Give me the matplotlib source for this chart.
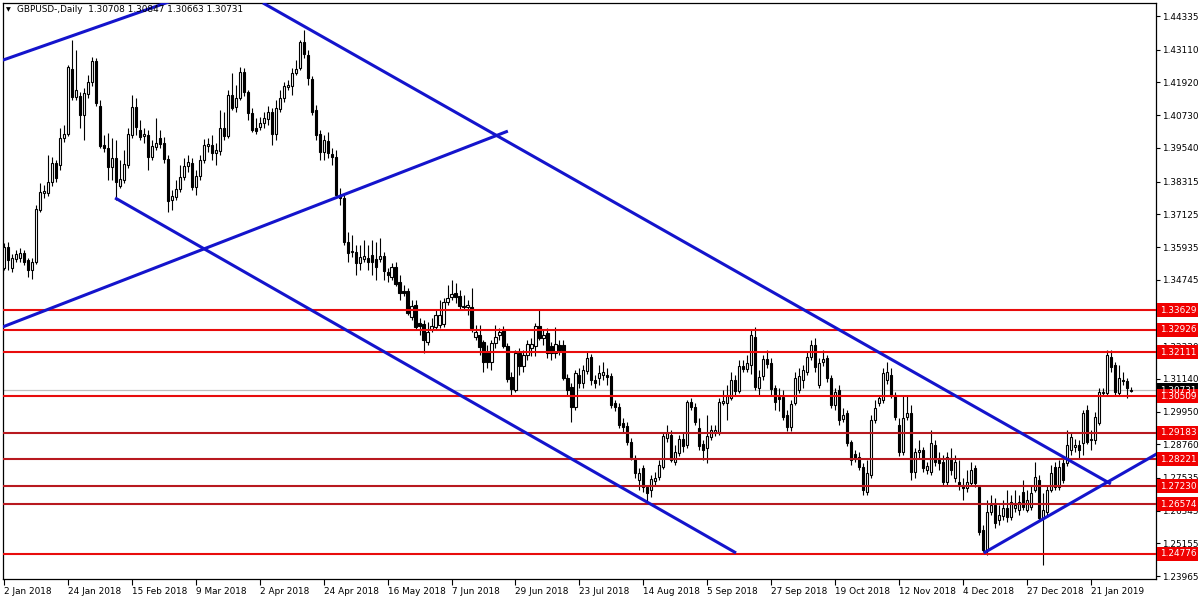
import matplotlib
matplotlib.use("Agg")
import matplotlib.pyplot as plt
from matplotlib.patches import Rectangle
from matplotlib.transforms import blended_transform_factory
import numpy as np

# GBPUSD daily candles (one bar per trading day from 2 Jan 2018)
opens = [
    1.3518, 1.3594, 1.3518, 1.3550, 1.3554, 1.3572, 1.3547, 1.3510, 1.3540, 1.3728,
    1.3790, 1.3790, 1.3830, 1.3899, 1.3892, 1.3990, 1.4005, 1.4241, 1.4139, 1.4143,
    1.4074, 1.4150, 1.4194, 1.4270, 1.4107, 1.3965, 1.3954, 1.3885, 1.3917, 1.3816,
    1.3837, 1.3892, 1.4001, 1.4103, 1.4019, 1.3997, 1.4001, 1.3921, 1.3957, 1.3990,
    1.3972, 1.3914, 1.3765, 1.3776, 1.3805, 1.3848, 1.3888, 1.3899, 1.3812, 1.3852,
    1.3910, 1.3961, 1.3965, 1.3936, 1.3943, 1.4027, 1.3997, 1.4147, 1.4103, 1.4136,
    1.4230, 1.4157, 1.4081, 1.4027, 1.4030, 1.4045, 1.4059, 1.4085, 1.4005, 1.4096,
    1.4136, 1.4176, 1.4179, 1.4227, 1.4245, 1.4339, 1.4292, 1.4205, 1.4092, 1.4005,
    1.3939, 1.3979, 1.3932, 1.3921, 1.3783, 1.3772, 1.3612, 1.3576, 1.3576, 1.3536,
    1.3550, 1.3554, 1.3565, 1.3550, 1.3550, 1.3561, 1.3503, 1.3485, 1.3521, 1.3467,
    1.3434, 1.3434, 1.3339, 1.3383, 1.3317, 1.3314, 1.3248, 1.3296, 1.3303, 1.3310,
    1.3314, 1.3394, 1.3412, 1.3427, 1.3416, 1.3379, 1.3376, 1.3376, 1.3266, 1.3274,
    1.3248, 1.3212, 1.3175, 1.3245, 1.3274, 1.3292, 1.3234, 1.3121, 1.3074, 1.3208,
    1.3161, 1.3201, 1.3226, 1.3234, 1.3307, 1.3263, 1.3281, 1.3234, 1.3208, 1.3237,
    1.3237, 1.3117, 1.3085, 1.3012, 1.3128, 1.3099, 1.3143, 1.3194, 1.3110, 1.3117,
    1.3128, 1.3128, 1.3125, 1.3027, 1.3012, 1.2954, 1.2943, 1.2885, 1.2827, 1.2747,
    1.2790, 1.2721, 1.2710, 1.2743, 1.2757, 1.2794, 1.2899, 1.2910, 1.2812, 1.2845,
    1.2896, 1.2874, 1.3030, 1.3012, 1.2935, 1.2877, 1.2863, 1.2903, 1.2917, 1.2921,
    1.3027, 1.3027, 1.3045, 1.3110, 1.3070, 1.3161, 1.3150, 1.3165, 1.3266, 1.3081,
    1.3125, 1.3186, 1.3172, 1.3081, 1.3048, 1.3048, 1.2983, 1.2939, 1.3027, 1.3074,
    1.3110, 1.3139, 1.3194, 1.3237, 1.3092, 1.3175, 1.3190, 1.3117, 1.3019, 1.3074,
    1.2968, 1.2990, 1.2885, 1.2841, 1.2830, 1.2794, 1.2703, 1.2765, 1.2965, 1.3027,
    1.3038, 1.3110, 1.3128, 1.3056, 1.2947, 1.2848, 1.2976, 1.2990, 1.2776, 1.2848,
    1.2856, 1.2783, 1.2776, 1.2874, 1.2827, 1.2812, 1.2739, 1.2827, 1.2754, 1.2739,
    1.2728, 1.2717, 1.2736, 1.2790, 1.2721, 1.2565, 1.2492, 1.2630, 1.2656, 1.2601,
    1.2616, 1.2645, 1.2612, 1.2645, 1.2638, 1.2703, 1.2638, 1.2649, 1.2710, 1.2747,
    1.2609, 1.2630, 1.2710, 1.2794, 1.2721, 1.2808, 1.2808, 1.2856, 1.2866, 1.2874,
    1.2881, 1.3001, 1.2892, 1.2892, 1.2954, 1.3063, 1.3063, 1.3194, 1.3165, 1.3063,
    1.3110, 1.3107, 1.30708,
]
highs = [
    1.3608, 1.3612, 1.3568, 1.3583, 1.3590, 1.3583, 1.3554, 1.3554, 1.3747, 1.3826,
    1.3819, 1.3928, 1.3921, 1.3910, 1.4027, 1.4037, 1.4256, 1.4346, 1.4310, 1.4157,
    1.4172, 1.4219, 1.4285, 1.4281, 1.4128, 1.4001, 1.4008, 1.3990, 1.3983, 1.3910,
    1.3946, 1.4027, 1.4147, 1.4136, 1.4056, 1.4027, 1.4019, 1.3983, 1.4063, 1.4019,
    1.3994, 1.3928, 1.3801, 1.3837, 1.3892, 1.3917, 1.3928, 1.3917, 1.3874, 1.3928,
    1.3986, 1.3990, 1.4001, 1.3972, 1.4092, 1.4085, 1.4165, 1.4227, 1.4183, 1.4248,
    1.4245, 1.4165, 1.4099, 1.4063, 1.4066, 1.4085, 1.4107, 1.4099, 1.4128, 1.4165,
    1.4194, 1.4201, 1.4245, 1.4274, 1.4346, 1.4383, 1.4310, 1.4216, 1.4110, 1.4019,
    1.4001, 1.4012, 1.3954, 1.3946, 1.3808, 1.3783, 1.3648, 1.3637, 1.3601, 1.3601,
    1.3619, 1.3601, 1.3619, 1.3612, 1.3626, 1.3576, 1.3518, 1.3536, 1.3540, 1.3492,
    1.3456, 1.3445, 1.3401, 1.3401, 1.3336, 1.3328, 1.3321, 1.3336, 1.3365, 1.3401,
    1.3408, 1.3456, 1.3474, 1.3463, 1.3437, 1.3419, 1.3401, 1.3445, 1.3310, 1.3310,
    1.3256, 1.3237, 1.3256, 1.3310, 1.3299, 1.3307, 1.3245, 1.3139, 1.3219, 1.3226,
    1.3219, 1.3256, 1.3263, 1.3317, 1.3365, 1.3292, 1.3299, 1.3248, 1.3303, 1.3256,
    1.3256, 1.3132, 1.3099, 1.3147, 1.3154, 1.3165, 1.3212, 1.3205, 1.3128, 1.3165,
    1.3175, 1.3154, 1.3136, 1.3038, 1.3027, 1.2972, 1.2957, 1.2899, 1.2837, 1.2790,
    1.2801, 1.2728, 1.2765, 1.2776, 1.2819, 1.2921, 1.2946, 1.2928, 1.2874, 1.2910,
    1.2921, 1.3038, 1.3045, 1.3027, 1.2972, 1.2892, 1.2983, 1.2946, 1.2946, 1.3045,
    1.3074, 1.3092, 1.3139, 1.3128, 1.3183, 1.3183, 1.3201, 1.3292, 1.3303, 1.3147,
    1.3201, 1.3219, 1.3190, 1.3092, 1.3081, 1.3074, 1.3001, 1.3038, 1.3139, 1.3154,
    1.3165, 1.3212, 1.3256, 1.3263, 1.3190, 1.3219, 1.3201, 1.3128, 1.3081, 1.3092,
    1.3008, 1.3001, 1.2892, 1.2856, 1.2848, 1.2808, 1.2819, 1.2983, 1.3038, 1.3056,
    1.3154, 1.3175, 1.3154, 1.3067, 1.2972, 1.3056, 1.3056, 1.3019, 1.2863, 1.2892,
    1.2866, 1.2812, 1.2928, 1.2892, 1.2848, 1.2837, 1.2848, 1.2863, 1.2837, 1.2819,
    1.2754, 1.2783, 1.2812, 1.2801, 1.2725, 1.2583, 1.2674, 1.2692, 1.2681, 1.2656,
    1.2674, 1.2710, 1.2692, 1.2710, 1.2692, 1.2747, 1.2710, 1.2728, 1.2812, 1.2765,
    1.2699, 1.2728, 1.2801, 1.2812, 1.2819, 1.2827, 1.2928, 1.2921, 1.2896, 1.2892,
    1.3001, 1.3019, 1.2928, 1.2994, 1.3081, 1.3081, 1.3219, 1.3219, 1.3175, 1.3165,
    1.3139, 1.3117, 1.30847,
]
lows = [
    1.3510, 1.3510, 1.3503, 1.3540, 1.3540, 1.3529, 1.3485, 1.3477, 1.3532, 1.3721,
    1.3772, 1.3779, 1.3816, 1.3830, 1.3874, 1.3976, 1.3997, 1.4128, 1.4128, 1.4027,
    1.3983, 1.4136, 1.4179, 1.4107, 1.3954, 1.3939, 1.3837, 1.3837, 1.3765, 1.3808,
    1.3827, 1.3881, 1.3990, 1.4001, 1.3983, 1.3972, 1.3874, 1.3910, 1.3946, 1.3954,
    1.3899, 1.3721, 1.3728, 1.3765, 1.3794, 1.3837, 1.3866, 1.3801, 1.3783, 1.3837,
    1.3899, 1.3939, 1.3910, 1.3892, 1.3928, 1.3983, 1.3990, 1.4092, 1.4085, 1.4128,
    1.4143, 1.4056, 1.4012, 1.4005, 1.4019, 1.4027, 1.4037, 1.3965, 1.3983, 1.4085,
    1.4121, 1.4165, 1.4147, 1.4219, 1.4237, 1.4281, 1.4183, 1.4074, 1.3983, 1.3910,
    1.3910, 1.3917, 1.3892, 1.3776, 1.3746, 1.3601, 1.3540, 1.3558, 1.3492, 1.3510,
    1.3540, 1.3510, 1.3492, 1.3474, 1.3540, 1.3474, 1.3467, 1.3474, 1.3452, 1.3401,
    1.3416, 1.3347, 1.3328, 1.3292, 1.3274, 1.3208, 1.3237, 1.3285, 1.3292, 1.3299,
    1.3303, 1.3383, 1.3401, 1.3390, 1.3365, 1.3365, 1.3347, 1.3285, 1.3256, 1.3201,
    1.3139, 1.3154, 1.3147, 1.3226, 1.3256, 1.3226, 1.3103, 1.3052, 1.3067, 1.3128,
    1.3139, 1.3183, 1.3197, 1.3197, 1.3256, 1.3237, 1.3190, 1.3183, 1.3190, 1.3201,
    1.3110, 1.3056, 1.2957, 1.3001, 1.3081, 1.3081, 1.3132, 1.3092, 1.3081, 1.3092,
    1.3110, 1.3092, 1.3008, 1.2996, 1.2936, 1.2921, 1.2874, 1.2819, 1.2754, 1.2710,
    1.2703, 1.2663, 1.2685, 1.2728, 1.2747, 1.2787, 1.2885, 1.2812, 1.2801, 1.2834,
    1.2848, 1.2863, 1.3001, 1.2947, 1.2856, 1.2819, 1.2808, 1.2892, 1.2907, 1.2910,
    1.3019, 1.2965, 1.3038, 1.3056, 1.3063, 1.3139, 1.3139, 1.3132, 1.3074, 1.3056,
    1.3110, 1.3154, 1.3056, 1.3001, 1.2996, 1.2965, 1.2925, 1.2925, 1.3019, 1.3063,
    1.3081, 1.3128, 1.3183, 1.3139, 1.3081, 1.3161, 1.3103, 1.3008, 1.3001, 1.2947,
    1.2957, 1.2870, 1.2801, 1.2812, 1.2783, 1.2692, 1.2692, 1.2754, 1.2954, 1.3016,
    1.3027, 1.3096, 1.3045, 1.2965, 1.2834, 1.2837, 1.2965, 1.2747, 1.2754, 1.2827,
    1.2776, 1.2768, 1.2765, 1.2797, 1.2783, 1.2728, 1.2725, 1.2765, 1.2739, 1.2710,
    1.2674, 1.2703, 1.2725, 1.2721, 1.2547, 1.2485, 1.2474, 1.2620, 1.2572, 1.2583,
    1.2601, 1.2594, 1.2601, 1.2630, 1.2620, 1.2638, 1.2630, 1.2638, 1.2703, 1.2601,
    1.2438, 1.2620, 1.2703, 1.2710, 1.2710, 1.2736, 1.2797, 1.2837, 1.2848, 1.2827,
    1.2837, 1.2877, 1.2856, 1.2877, 1.2947, 1.3052, 1.3056, 1.3139, 1.3056, 1.3052,
    1.3092, 1.3045, 1.30663,
]
closes = [
    1.3594, 1.3547, 1.3554, 1.3568, 1.3572, 1.3540, 1.3510, 1.3540, 1.3732, 1.3794,
    1.3797, 1.3830, 1.3899, 1.3845, 1.3990, 1.4005, 1.4248, 1.4139, 1.4165, 1.4074,
    1.4154, 1.4194, 1.4270, 1.4117, 1.3961, 1.3954, 1.3885, 1.3917, 1.3830, 1.3841,
    1.3896, 1.4005, 1.4103, 1.4030, 1.3994, 1.4005, 1.3921, 1.3961, 1.3972, 1.3968,
    1.3914, 1.3761, 1.3779, 1.3805, 1.3848, 1.3888, 1.3903, 1.3812, 1.3852, 1.3910,
    1.3965, 1.3968, 1.3936, 1.3946, 1.4027, 1.3997, 1.4147, 1.4099, 1.4136, 1.4230,
    1.4157, 1.4081, 1.4019, 1.4016, 1.4045, 1.4063, 1.4085, 1.4005, 1.4099, 1.4136,
    1.4179, 1.4183, 1.4227, 1.4241, 1.4339, 1.4296, 1.4208, 1.4085, 1.4001, 1.3939,
    1.3983, 1.3936, 1.3921, 1.3783, 1.3772, 1.3612, 1.3572, 1.3579, 1.3536, 1.3558,
    1.3561, 1.3540, 1.3540, 1.3521, 1.3561, 1.3507, 1.3492, 1.3521, 1.3459, 1.3427,
    1.3427, 1.3354, 1.3379, 1.3303, 1.3307, 1.3256, 1.3285, 1.3307, 1.3347, 1.3347,
    1.3394, 1.3408, 1.3423, 1.3412, 1.3379, 1.3376, 1.3383, 1.3299, 1.3285, 1.3230,
    1.3175, 1.3175, 1.3245, 1.3266, 1.3285, 1.3234, 1.3114, 1.3077, 1.3208, 1.3161,
    1.3201, 1.3241, 1.3241, 1.3307, 1.3263, 1.3274, 1.3208, 1.3208, 1.3241, 1.3219,
    1.3117, 1.3074, 1.3012, 1.3136, 1.3099, 1.3147, 1.3190, 1.3110, 1.3099, 1.3136,
    1.3139, 1.3121, 1.3019, 1.3012, 1.2947, 1.2939, 1.2885, 1.2830, 1.2772, 1.2772,
    1.2721, 1.2699, 1.2750, 1.2754, 1.2801, 1.2907, 1.2917, 1.2819, 1.2848, 1.2896,
    1.2870, 1.3030, 1.3012, 1.2957, 1.2870, 1.2856, 1.2907, 1.2928, 1.2928, 1.3030,
    1.3034, 1.3052, 1.3110, 1.3070, 1.3161, 1.3150, 1.3172, 1.3274, 1.3085, 1.3121,
    1.3186, 1.3168, 1.3077, 1.3030, 1.3041, 1.2976, 1.2939, 1.3023, 1.3117, 1.3125,
    1.3147, 1.3194, 1.3237, 1.3157, 1.3172, 1.3186, 1.3117, 1.3019, 1.3067, 1.2965,
    1.2983, 1.2881, 1.2819, 1.2823, 1.2794, 1.2710, 1.2772, 1.2965, 1.3008, 1.3045,
    1.3136, 1.3139, 1.3056, 1.2976, 1.2848, 1.2972, 1.2990, 1.2776, 1.2848, 1.2856,
    1.2790, 1.2797, 1.2881, 1.2812, 1.2808, 1.2739, 1.2830, 1.2783, 1.2812, 1.2728,
    1.2717, 1.2739, 1.2783, 1.2736, 1.2558, 1.2492, 1.2630, 1.2656, 1.2590, 1.2620,
    1.2645, 1.2612, 1.2667, 1.2656, 1.2667, 1.2649, 1.2674, 1.2699, 1.2757, 1.2609,
    1.2638, 1.2710, 1.2772, 1.2721, 1.2794, 1.2747, 1.2874, 1.2903, 1.2874, 1.2856,
    1.2990, 1.2885, 1.2896, 1.2976, 1.3067, 1.3067, 1.3201, 1.3157, 1.3067, 1.3117,
    1.3107, 1.3081, 1.30731,
]

date_labels = ["2 Jan 2018", "24 Jan 2018", "15 Feb 2018", "9 Mar 2018", "2 Apr 2018",
               "24 Apr 2018", "16 May 2018", "7 Jun 2018", "29 Jun 2018", "23 Jul 2018",
               "14 Aug 2018", "5 Sep 2018", "27 Sep 2018", "19 Oct 2018", "12 Nov 2018",
               "4 Dec 2018", "27 Dec 2018", "21 Jan 2019"]
bars_per_label = 16

price_ticks = [1.44335, 1.43110, 1.41920, 1.40730, 1.39540, 1.38315, 1.37125, 1.35935,
               1.34745, 1.33555, 1.32330, 1.31140, 1.29950, 1.28760, 1.27535, 1.26345,
               1.25155, 1.23965]

# horizontal support / resistance lines
bright_levels = [1.33629, 1.32926, 1.32111, 1.30509, 1.24776]
dark_levels = [1.29183, 1.28221, 1.27230, 1.26574]
last_price = 1.30731

# trend lines as (bar, price) pairs
trend_lines = [
    ((-0.3, 1.4273), (41.5, 1.4486)),
    ((64.8, 1.4481), (277.0, 1.2732)),
    ((27.8, 1.3772), (183.2, 1.2481)),
    ((-0.3, 1.3303), (126.1, 1.4015)),
    ((245.2, 1.2481), (289.3, 1.2848)),
]

header = "GBPUSD-,Daily  1.30708 1.30847 1.30663 1.30731"

FS = 6.4
plt.rcParams['font.family'] = ['DejaVu Sans']

fig = plt.figure(figsize=(12, 6), dpi=100)
fig.patch.set_facecolor('white')
ax = fig.add_axes([3 / 1200, 21 / 600, 1153 / 1200, 576 / 600])

o = np.array(opens)
h = np.array(highs)
l = np.array(lows)
c = np.array(closes)
idx = np.arange(len(o))
up = c >= o

ax.vlines(idx, l, h, color='black', lw=0.8, zorder=3)
ax.bar(idx[up], (c - o)[up], bottom=o[up], width=0.55, facecolor='white',
       edgecolor='black', lw=0.8, zorder=4)
ax.bar(idx[~up], (o - c)[~up], bottom=c[~up], width=0.55, facecolor='black',
       edgecolor='black', lw=0.8, zorder=4)

ax.axhline(last_price, color='#c0c0c0', lw=0.9, zorder=2)
for lv in bright_levels:
    ax.axhline(lv, color='#e80c0c', lw=1.5, zorder=5)
for lv in dark_levels:
    ax.axhline(lv, color='#b8191f', lw=1.5, zorder=5)

for (x0, y0), (x1, y1) in trend_lines:
    ax.plot([x0, x1], [y0, y1], color='#1414cc', lw=2.2, zorder=6,
            solid_capstyle='butt')

ax.set_xlim(-0.25, 288.3)
ax.set_ylim(1.23862, 1.44808)

ax.set_xticks(np.arange(len(date_labels)) * bars_per_label)
ax.set_xticklabels(date_labels, ha='left')
ax.yaxis.tick_right()
ax.set_yticks(price_ticks)
ax.set_yticklabels([f"{p:.5f}" for p in price_ticks])
ax.tick_params(axis='x', direction='out', length=4, width=0.8, pad=1.5,
               labelsize=FS, colors='black')
ax.tick_params(axis='y', direction='out', length=3, width=0.8, pad=1.5,
               labelsize=FS, colors='black')
for s in ax.spines.values():
    s.set_color('black')
    s.set_linewidth(0.9)

# price labels on the right axis
trans = blended_transform_factory(fig.transFigure, ax.transData)
box_h = 14 / 2750
all_boxes = [(last_price, 'black')] + [(lv, '#f00000') for lv in bright_levels + dark_levels]
for lv, col in all_boxes:
    ax.add_patch(Rectangle((1157 / 1200, lv - box_h / 2), 41 / 1200, box_h,
                           transform=trans, facecolor=col, edgecolor='none',
                           clip_on=False, zorder=8))
    ax.text(1160 / 1200, lv, f"{lv:.5f}", transform=trans, color='white',
            fontsize=FS, va='center', ha='left', clip_on=False, zorder=9)

fig.text(8 / 1200, 1 - 10 / 600, "\u25bc", fontsize=4.5, ha='center', va='center')
fig.text(17 / 1200, 1 - 10 / 600, header, fontsize=FS, ha='left', va='center')

fig.savefig("out.png", dpi=100)
